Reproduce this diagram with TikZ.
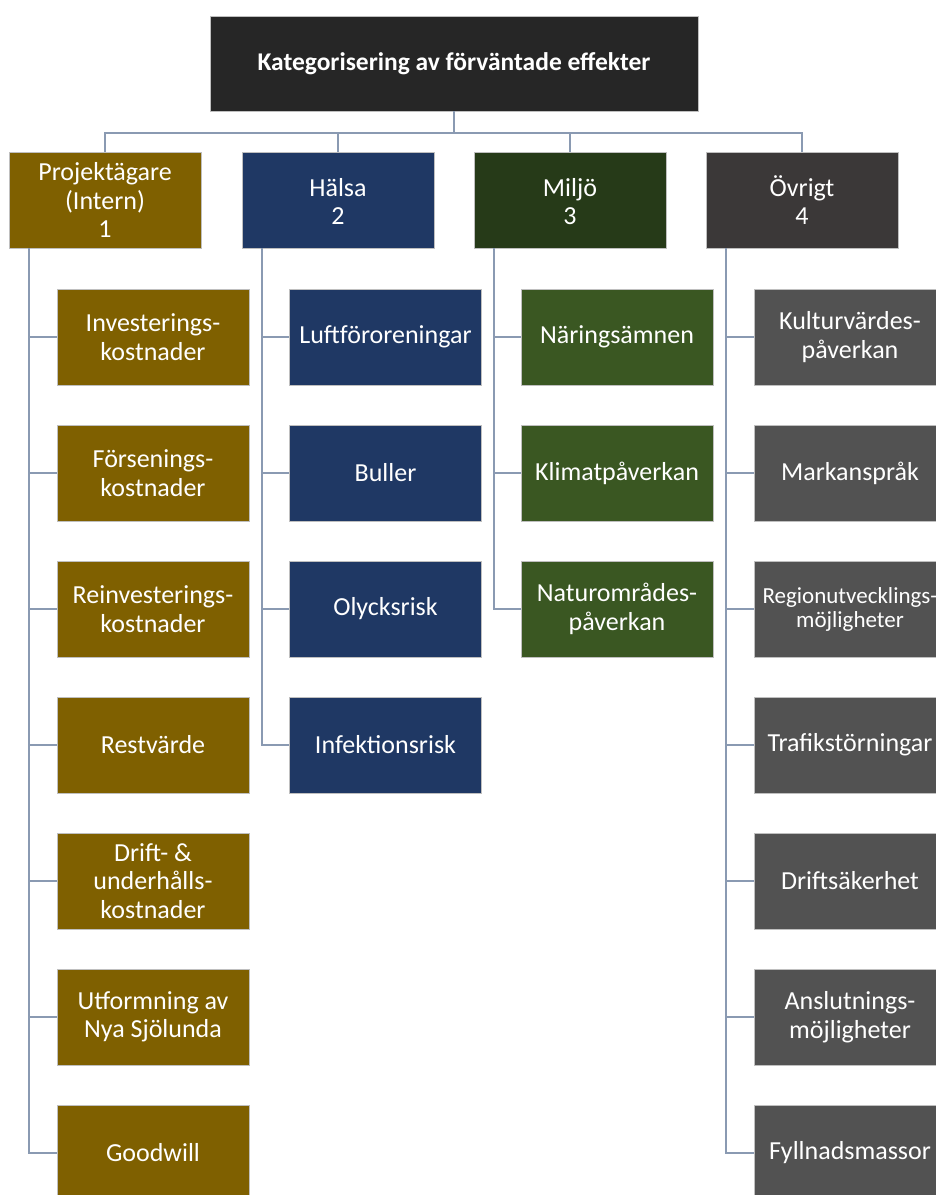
\documentclass[tikz,border=0pt]{standalone}
\usepackage{fontspec}
\setmainfont{Carlito}
\definecolor{topc}{HTML}{262626}
\definecolor{brownc}{HTML}{7F6000}
\definecolor{bluec}{HTML}{1F3864}
\definecolor{greenh}{HTML}{263A18}
\definecolor{greenc}{HTML}{3A5722}
\definecolor{greyh}{HTML}{3B3838}
\definecolor{greyc}{HTML}{525252}
\definecolor{linec}{HTML}{8A9AB2}
\tikzset{
  x=1pt, y=-1pt,
  box/.style={rectangle, minimum width=192pt, minimum height=96pt, inner sep=1pt,
    text=white, align=center, font=\fontsize{26}{28.5}\selectfont, draw=white!75!black, line width=0.6pt},
  conn/.style={draw=linec, line width=1.4pt},
}
\begin{document}
\begin{tikzpicture}
\useasboundingbox (0,0) rectangle (936,1195);
\node[box, fill=topc, minimum width=488pt, minimum height=95pt, font=\bfseries\fontsize{25.5}{28}\selectfont] (top) at (454,63.5) {Kategorisering av förväntade effekter};
\node[box, fill=brownc] (c1) at (105,200) {Projektägare\\(Intern)\\1};
\node[box, fill=bluec] (c2) at (338,200) {\vphantom{Ö}Hälsa\\2};
\node[box, fill=greenh] (c3) at (570,200) {\vphantom{Ö}Miljö\\3};
\node[box, fill=greyh] (c4) at (802,200) {Övrigt\\4};

\node[box, fill=brownc] (a1) at (153,337) {Investerings-\\kostnader};
\node[box, fill=brownc] (a2) at (153,473) {Försenings-\\kostnader};
\node[box, fill=brownc] (a3) at (153,609) {Reinvesterings-\\kostnader};
\node[box, fill=brownc] (a4) at (153,745) {Restvärde};
\node[box, fill=brownc] (a5) at (153,881) {Drift- \&\\underhålls-\\kostnader};
\node[box, fill=brownc] (a6) at (153,1017) {Utformning av\\Nya Sjölunda};
\node[box, fill=brownc] (a7) at (153,1153) {Goodwill};

\node[box, fill=bluec] (b1) at (385.5,337) {Luftföroreningar};
\node[box, fill=bluec] (b2) at (385.5,473) {Buller};
\node[box, fill=bluec] (b3) at (385.5,609) {Olycksrisk};
\node[box, fill=bluec] (b4) at (385.5,745) {Infektionsrisk};

\node[box, fill=greenc] (g1) at (617,337) {Näringsämnen};
\node[box, fill=greenc] (g2) at (617,473) {Klimatpåverkan};
\node[box, fill=greenc] (g3) at (617,609) {Naturområdes-\\påverkan};

\node[box, fill=greyc] (d1) at (850,337) {Kulturvärdes-\\påverkan};
\node[box, fill=greyc] (d2) at (850,473) {Markanspråk};
\node[box, fill=greyc, font=\fontsize{23}{24}\selectfont] (d3) at (850,609) {Regionutvecklings-\\möjligheter};
\node[box, fill=greyc] (d4) at (850,745) {Trafikstörningar};
\node[box, fill=greyc] (d5) at (850,881) {Driftsäkerhet};
\node[box, fill=greyc] (d6) at (850,1017) {Anslutnings-\\möjligheter};
\node[box, fill=greyc] (d7) at (850,1153) {Fyllnadsmassor};

\coordinate (bus) at (454,133);
\draw[conn] (top.south) -- (bus);
\foreach \c in {c1,c2,c3,c4} \draw[conn] (bus) -| (\c.north);

\coordinate (v1) at (29,248);
\coordinate (v2) at (262,248);
\coordinate (v3) at (494,248);
\coordinate (v4) at (726,248);
\foreach \n in {a1,a2,a3,a4,a5,a6,a7} \draw[conn] (v1) |- (\n.west);
\foreach \n in {b1,b2,b3,b4} \draw[conn] (v2) |- (\n.west);
\foreach \n in {g1,g2,g3} \draw[conn] (v3) |- (\n.west);
\foreach \n in {d1,d2,d3,d4,d5,d6,d7} \draw[conn] (v4) |- (\n.west);
\end{tikzpicture}
\end{document}
